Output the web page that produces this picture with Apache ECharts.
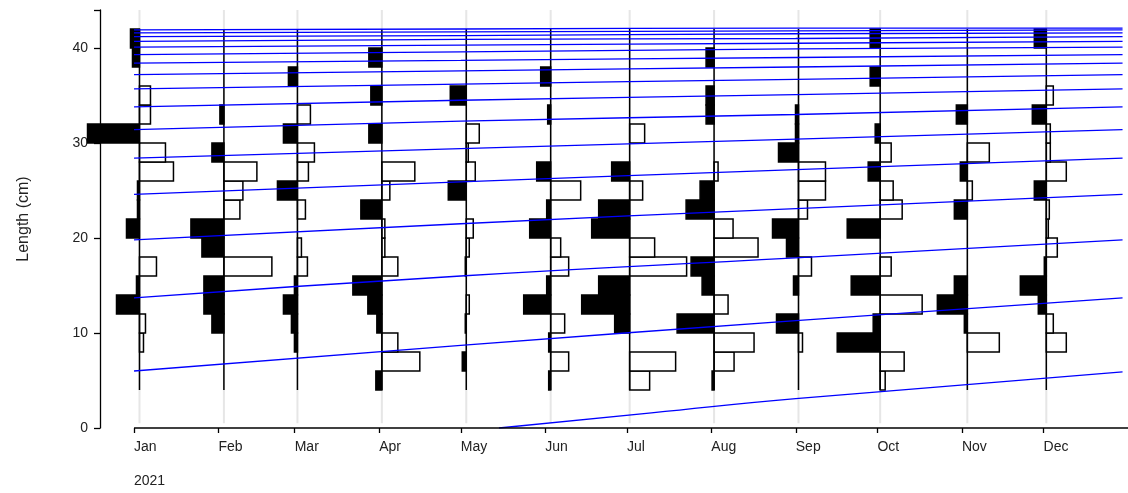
<!DOCTYPE html>
<html><head><meta charset="utf-8">
<script src="https://cdn.jsdelivr.net/npm/echarts@6/dist/echarts.min.js"></script>
<style>html,body{margin:0;padding:0;background:#fff}#c{width:1128px;height:493px}</style>
</head><body><div id="c"></div>
<script>
// month tick positions (day of 2021) and labels
const monthDays = [0,31,59,90,120,151,181,212,243,273,304,334];
const monthLabels = ['Jan','Feb','Mar','Apr','May','Jun','Jul','Aug','Sep','Oct','Nov','Dec'];
const yTicks = [0,10,20,30,40];
// sample dates (day of year)
const sampleDays = [2,33,60,91,122,153,182,213,244,274,306,335];
// length bins (lower edge, width 2 cm)
const binLows = [4,6,8,10,12,14,16,18,20,22,24,26,28,30,32,34,36,38,40];
// restructured frequencies per sample (negative = black, positive = white)
const sJan = [0,0,4,6,-23,-3,17,0,-13,-2,-2,34,26,-52,11,11,0,-7,-9];
const sFeb = [0,0,0,-12,-20,-20,48,-22,-33,16,19,33,-12,0,-4,0,0,0,0];
const sMar = [0,0,-3,-6,-14,-3,10,4,0,8,-20,11,17,-14,13,0,-9,0,0];
const sApr = [-6,38,16,-5,-14,-29,16,3,3,-21,8,33,0,-13,0,-11,0,-13,0];
const sMay = [0,-4,0,-1,3,0,-1,3,7,0,-18,9,2,13,0,-16,0,0,0];
const sJun = [-2,18,-2,14,-27,-4,18,10,-21,-4,30,-14,0,0,-3,0,-10,0,0];
const sJul = [20,46,0,-15,-48,-31,57,25,-38,-31,13,-18,0,15,0,0,0,0,0];
const sAug = [-2,20,40,-37,14,-12,-23,44,19,-28,-14,4,0,0,-8,-8,0,-8,0];
const sSep = [0,0,4,-22,0,-5,13,-12,-26,9,27,27,-20,-3,-3,0,0,0,0];
const sOct = [5,24,-43,-7,42,-29,11,0,-33,22,13,-12,11,-5,0,0,-10,0,-10];
const sNov = [0,0,32,-3,-30,-13,0,0,0,-13,5,-7,22,0,-11,0,0,0,0];
const sDec = [0,0,20,7,-8,-26,-2,11,2,3,-12,20,4,4,-14,7,0,0,-12];
const samples = [sJan,sFeb,sMar,sApr,sMay,sJun,sJul,sAug,sSep,sOct,sNov,sDec];
// growth curves: lengths read at days [0,120,243,363]
const curveDays = [0,120,243,363];
const curves = [
 [6.0,8.7,11.3,13.7],[13.7,16.0,17.9,19.8],[19.8,21.5,23.1,24.6],[24.6,25.9,27.2,28.4],
 [28.4,29.4,30.4,31.4],[31.4,32.3,33.0,33.8],[33.8,34.5,35.1,35.7],[35.7,36.2,36.7,37.2],
 [37.2,37.6,38.0,38.4],[38.4,38.7,39.0,39.3],[39.3,39.6,39.9,40.1],[40.1,40.3,40.5,40.7],
 [40.7,40.9,41.0,41.2],[41.2,41.3,41.5,41.6],[41.6,41.7,41.8,41.9],[41.9,42.0,42.1,42.1]
];
const newCohortDays = [134,190,243,363];
const newCohort = [0,1.6,3.1,5.9];

const PX_PER_DAY = 2.725;
const barData = [];
samples.forEach((arr,i)=>arr.forEach((v,j)=>{ if(v!==0) barData.push([sampleDays[i],binLows[j],v]); }));

const series = [];
series.push({type:'custom',silent:true,z:1,data:sampleDays.map(d=>[d]),
 renderItem:(p,api)=>{const a=api.coord([api.value(0),44]),b=api.coord([api.value(0),0.5]);
  return {type:'line',shape:{x1:a[0],y1:a[1],x2:b[0],y2:b[1]},style:{stroke:'#e6e6e6',lineWidth:2}};}});
series.push({type:'custom',silent:true,z:2,data:barData,
 renderItem:(p,api)=>{const d=api.value(0),lo=api.value(1),v=api.value(2);
  const a=api.coord([d,lo+2]),b=api.coord([d+v/PX_PER_DAY,lo]);
  const x=Math.min(a[0],b[0]),w=Math.abs(b[0]-a[0]);
  return {type:'rect',shape:{x:x,y:a[1],width:w,height:b[1]-a[1]},
   style:{fill:v<0?'#000':'#fff',stroke:'#000',lineWidth:1.5}};}});
series.push({type:'custom',silent:true,z:3,data:sampleDays.map(d=>[d]),
 renderItem:(p,api)=>{const a=api.coord([api.value(0),42]),b=api.coord([api.value(0),4]);
  return {type:'line',shape:{x1:a[0],y1:a[1],x2:b[0],y2:b[1]},style:{stroke:'#000',lineWidth:1.5}};}});
curves.forEach(c=>series.push({type:'line',z:4,silent:true,symbol:'none',smooth:true,
 data:curveDays.map((d,k)=>[d,c[k]]),lineStyle:{color:'#0000ff',width:1.3}}));
series.push({type:'line',z:4,silent:true,symbol:'none',smooth:true,
 data:newCohortDays.map((d,k)=>[d,newCohort[k]]),lineStyle:{color:'#0000ff',width:1.3}});
series.push({type:'line',z:5,silent:true,symbol:'none',clip:false,
 data:[[0,0],[365,0]],lineStyle:{color:'#000',width:1.3}});

const chart = echarts.init(document.getElementById('c'));
chart.setOption({
 animation:false,
 grid:{left:100,right:0,top:10,bottom:65},
 xAxis:{type:'value',min:-12.5,max:365,splitLine:{show:false},axisLine:{show:false,onZero:false},
  axisTick:{show:true,customValues:monthDays,length:5,inside:false,lineStyle:{color:'#000',width:1.3}},
  axisLabel:{customValues:monthDays,formatter:v=>monthLabels[monthDays.indexOf(v)]||'',
   align:'left',margin:12,fontFamily:'Liberation Sans, Arial',fontSize:14,color:'#222'}},
 yAxis:{type:'value',min:0,max:44,interval:10,name:'Length (cm)',nameLocation:'middle',nameGap:68,
  nameTextStyle:{fontFamily:'Liberation Sans, Arial',fontSize:16,color:'#222'},
  splitLine:{show:false},axisLine:{show:true,onZero:false,lineStyle:{color:'#000',width:1.3}},
  axisTick:{show:true,length:6,lineStyle:{color:'#000',width:1.3}},
  axisLabel:{fontFamily:'Liberation Sans, Arial',fontSize:14,color:'#222',margin:12,
   formatter:v=>yTicks.includes(v)?String(v):''}},
 graphic:[{type:'text',left:134,top:474,style:{text:'2021',fontFamily:'Liberation Sans, Arial',fontSize:14,fill:'#222'}}],
 series:series
});
</script></body></html>
